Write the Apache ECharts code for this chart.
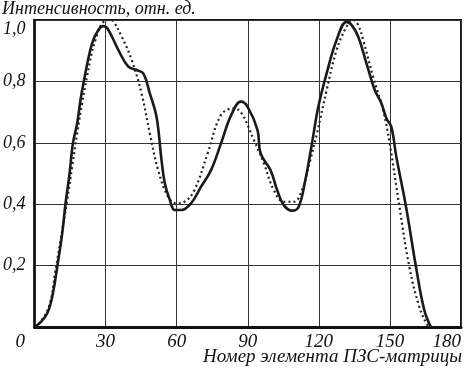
<!DOCTYPE html>
<html>
<head>
<meta charset="utf-8">
<script src="https://cdn.jsdelivr.net/npm/echarts@6/dist/echarts.min.js"></script>
<style>
  html, body { margin: 0; padding: 0; background: #fff; }
  #main { width: 464px; height: 368px; }
</style>
</head>
<body>
<div id="main"></div>
<script>
// измеренный профиль (сплошная) и расчётный (пунктир)
var measuredX = [0, 2.5, 5.4, 7.5, 9.6, 11.7, 13.1, 14.8, 16.2, 18, 19.4, 20.8, 24.3, 27, 29, 31, 35.4, 39.6, 43.1, 45.9, 48.7, 51.5, 53.6, 55, 57.1, 59.2, 62, 66.1, 70.3, 74.5, 78.7, 83, 87.1, 89.9, 94.1, 95.4, 99.6, 102.4, 105.2, 108.7, 111.5, 114.3, 117.1, 119.8, 123.3, 127.5, 131.7, 133.8, 136.6, 140.1, 143.6, 146.4, 148.5, 150.6, 152.7, 156.8, 161, 164.5, 167.3];
var measuredY = [0, 0.015, 0.045, 0.099, 0.196, 0.305, 0.403, 0.5, 0.598, 0.663, 0.739, 0.8, 0.924, 0.968, 0.98, 0.97, 0.902, 0.848, 0.837, 0.826, 0.76, 0.685, 0.544, 0.468, 0.414, 0.381, 0.381, 0.403, 0.457, 0.511, 0.598, 0.69, 0.734, 0.718, 0.642, 0.566, 0.511, 0.446, 0.397, 0.379, 0.392, 0.479, 0.598, 0.718, 0.826, 0.935, 0.994, 0.984, 0.946, 0.859, 0.772, 0.729, 0.68, 0.652, 0.555, 0.392, 0.196, 0.055, 0];

var modelX = [0, 2, 6.1, 8.9, 11, 13.8, 15.9, 18, 20.1, 22, 25.7, 29.8, 32, 33.4, 36.8, 41, 45.2, 48.7, 52.2, 56.4, 59.9, 63.3, 67.5, 73.1, 78.7, 84, 87.1, 92.6, 96.8, 101, 105.2, 109.4, 112.9, 116.4, 119.2, 123.3, 127.5, 131.7, 134.5, 136.5, 138.7, 142.9, 147.1, 149.9, 154, 158.2, 162.4, 165.9, 167.5];
var modelY = [0, 0.012, 0.066, 0.186, 0.283, 0.414, 0.522, 0.63, 0.729, 0.81, 0.935, 0.998, 1.0, 0.994, 0.946, 0.87, 0.76, 0.63, 0.511, 0.424, 0.403, 0.408, 0.446, 0.566, 0.69, 0.712, 0.70, 0.609, 0.533, 0.446, 0.408, 0.408, 0.446, 0.544, 0.63, 0.772, 0.902, 0.978, 1.0, 0.985, 0.935, 0.815, 0.707, 0.598, 0.392, 0.196, 0.066, 0.006, 0];

var xTicks = [0, 30, 60, 90, 120, 150, 180];
var yTicks = [0, 0.2, 0.4, 0.6, 0.8, 1.0];

function pairs(xs, ys) {
  var out = [];
  for (var i = 0; i < xs.length; i++) out.push([xs[i], ys[i]]);
  return out;
}

var font = 'Liberation Serif';
var chart = echarts.init(document.getElementById('main'));
var option = {
  animation: false,
  backgroundColor: '#fff',
  title: [
    {
      text: 'Интенсивность, отн. ед.',
      left: 2, top: 0, padding: 0,
      textStyle: { fontFamily: font, fontStyle: 'italic', fontWeight: 'normal', fontSize: 18, color: '#111' }
    },
    {
      text: 'Номер элемента ПЗС-матрицы',
      right: 2, bottom: 2, padding: 0,
      textStyle: { fontFamily: font, fontStyle: 'italic', fontWeight: 'normal', fontSize: 19, color: '#111' }
    }
  ],
  grid: {
    left: 32, right: 2, top: 20, bottom: 41,
    show: true, borderColor: '#111', borderWidth: 2
  },
  xAxis: {
    type: 'value',
    min: xTicks[0], max: xTicks[xTicks.length - 1], interval: 30,
    axisLine: { lineStyle: { color: '#111', width: 3 } },
    axisTick: { show: false },
    splitLine: { show: true, lineStyle: { color: '#333', width: 1 } },
    axisLabel: {
      margin: 5,
      fontFamily: font, fontStyle: 'italic', fontSize: 19, color: '#111',
      alignMinLabel: 'right', alignMaxLabel: 'right',
      formatter: function (v) { return v === 0 ? '0  ' : String(v); }
    }
  },
  yAxis: {
    type: 'value',
    min: yTicks[0], max: yTicks[yTicks.length - 1], interval: 0.2,
    axisLine: { show: true, lineStyle: { color: '#111', width: 2.5 } },
    axisTick: { show: false },
    splitLine: { show: true, lineStyle: { color: '#333', width: 1 } },
    axisLabel: {
      showMinLabel: false,
      margin: 9,
      fontFamily: font, fontStyle: 'italic', fontSize: 18, color: '#111',
      verticalAlignMaxLabel: 'top',
      formatter: function (v) { return v.toFixed(1).replace('.', ','); }
    }
  },
  series: [
    {
      type: 'line', data: pairs(modelX, modelY), smooth: 0.4,
      showSymbol: false,
      lineStyle: { color: '#222', width: 2.2, type: [2, 3] }
    },
    {
      type: 'line', data: pairs(measuredX, measuredY), smooth: 0.4,
      showSymbol: false,
      lineStyle: { color: '#1a1a1a', width: 2.6 }
    }
  ]
};
chart.setOption(option);
</script>
</body>
</html>
